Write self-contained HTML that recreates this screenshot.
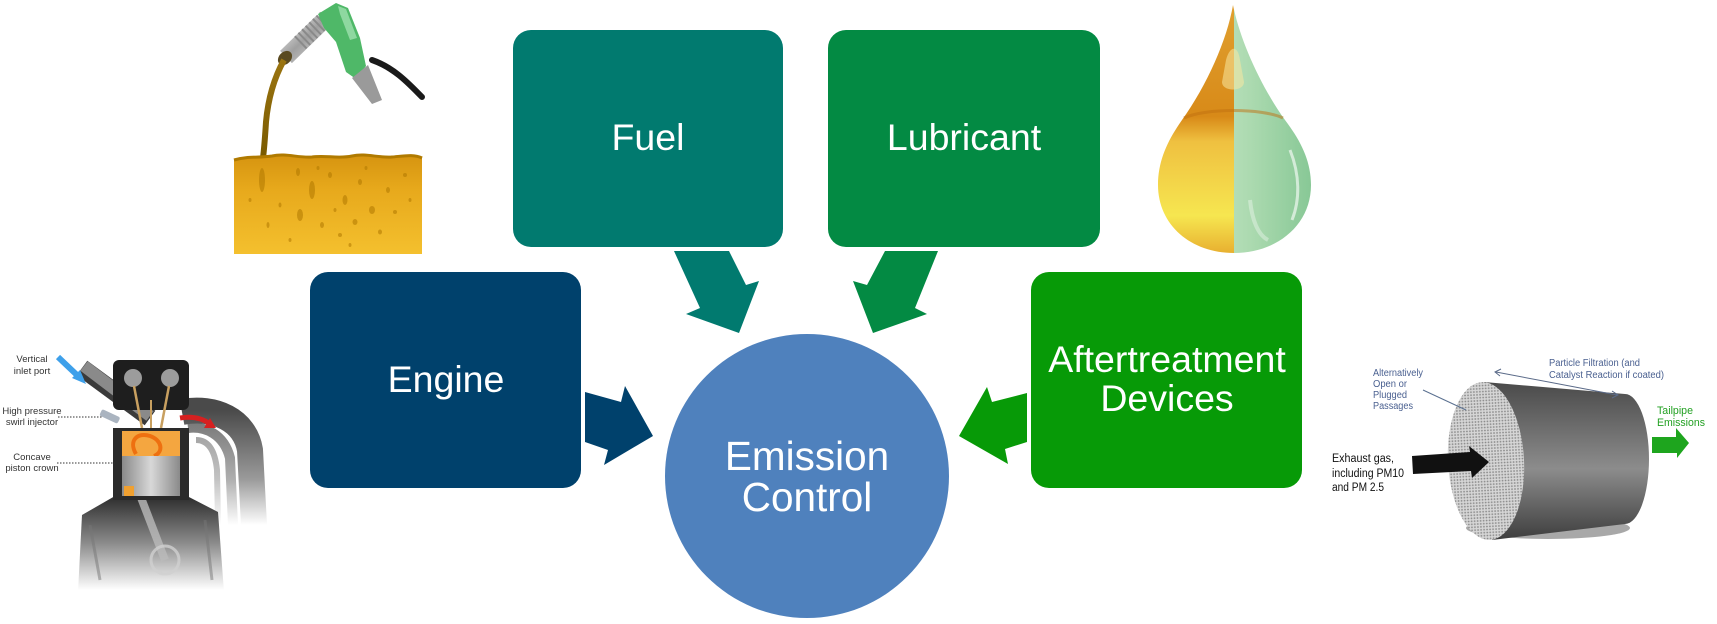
<!DOCTYPE html>
<html>
<head>
<meta charset="utf-8">
<style>
  html,body{margin:0;padding:0;background:#fff;}
  svg{display:block;}
  text{font-family:"Liberation Sans", Arial, sans-serif;}
</style>
</head>
<body>
<svg width="1717" height="624" viewBox="0 0 1717 624" xmlns="http://www.w3.org/2000/svg">
  <defs>
    <linearGradient id="liq" x1="0" y1="0" x2="0" y2="1">
      <stop offset="0" stop-color="#d69410"/>
      <stop offset="0.35" stop-color="#e7a91c"/>
      <stop offset="1" stop-color="#f4c02e"/>
    </linearGradient>
    <linearGradient id="stream" x1="0" y1="0" x2="0" y2="1">
      <stop offset="0" stop-color="#9a7410"/>
      <stop offset="1" stop-color="#7a5a00"/>
    </linearGradient>
    <linearGradient id="dropL" x1="0" y1="0" x2="0" y2="1">
      <stop offset="0" stop-color="#e0a030"/>
      <stop offset="0.45" stop-color="#d88a18"/>
      <stop offset="0.55" stop-color="#efc040"/>
      <stop offset="0.85" stop-color="#f6e650"/>
      <stop offset="1" stop-color="#e8b030"/>
    </linearGradient>
    <linearGradient id="dropR" x1="0" y1="0" x2="1" y2="0">
      <stop offset="0" stop-color="#d4ecd4"/>
      <stop offset="0.6" stop-color="#acdab0"/>
      <stop offset="1" stop-color="#88c896"/>
    </linearGradient>
    <clipPath id="clipL"><rect x="1100" y="0" width="134" height="260"/></clipPath>
    <clipPath id="clipR"><rect x="1234" y="0" width="100" height="260"/></clipPath>
    <linearGradient id="body" x1="0" y1="0" x2="0" y2="1">
      <stop offset="0" stop-color="#4a4a4a"/>
      <stop offset="0.55" stop-color="#8c8c8c"/>
      <stop offset="1" stop-color="#3e3e3e"/>
    </linearGradient>
    <pattern id="mesh" x="0" y="0" width="3" height="3" patternUnits="userSpaceOnUse">
      <rect width="3" height="3" fill="#d6d6d6"/>
      <circle cx="1.5" cy="1.5" r="0.9" fill="#8a8a8a"/>
    </pattern>
    <linearGradient id="exh" x1="0" y1="410" x2="0" y2="525" gradientUnits="userSpaceOnUse">
      <stop offset="0" stop-color="#4a4a4a"/>
      <stop offset="0.6" stop-color="#9a9a9a"/>
      <stop offset="1" stop-color="#ffffff"/>
    </linearGradient>
    <linearGradient id="crank" x1="0" y1="495" x2="0" y2="590" gradientUnits="userSpaceOnUse">
      <stop offset="0" stop-color="#2a2a2a"/>
      <stop offset="0.5" stop-color="#8a8a8a"/>
      <stop offset="1" stop-color="#ffffff"/>
    </linearGradient>
    <linearGradient id="piston" x1="0" y1="0" x2="1" y2="0">
      <stop offset="0" stop-color="#8a8a8a"/>
      <stop offset="0.5" stop-color="#d8d8d8"/>
      <stop offset="1" stop-color="#8a8a8a"/>
    </linearGradient>
    <linearGradient id="silver" x1="0" y1="0" x2="1" y2="1">
      <stop offset="0" stop-color="#e8e8e8"/>
      <stop offset="0.5" stop-color="#a0a0a0"/>
      <stop offset="1" stop-color="#d0d0d0"/>
    </linearGradient>
  </defs>

  <!-- ============ Fuel image ============ -->
  <path d="M372,60 C395,68 410,85 422,97" fill="none" stroke="#1a1a1a" stroke-width="6" stroke-linecap="round"/>
  <line x1="286" y1="57" x2="322" y2="22" stroke="url(#silver)" stroke-width="17" stroke-linecap="butt"/>
  <line x1="300" y1="43" x2="326" y2="18" stroke="#8a8a8a" stroke-width="17" stroke-dasharray="2 3"/>
  <ellipse cx="285" cy="58" rx="8" ry="6" transform="rotate(-45 285 58)" fill="#5a4a20"/>
  <path d="M318,14 L336,3 L348,8 L360,38 L366,66 L356,79 L346,72 L336,42 L324,28 Z" fill="#4fb868"/>
  <path d="M338,6 L346,9 L357,38 L350,40 L340,14 Z" fill="#8ed8a0"/>
  <path d="M352,78 L368,65 L382,100 L372,104 Z" fill="#9a9a9a"/>
  <path d="M284,60 C274,78 268,100 266,122 C265,138 264,150 263,158" fill="none" stroke="url(#stream)" stroke-width="6"/>
  <path d="M234,160 C248,156 258,158 272,156 C286,153 298,158 312,157 C326,155 338,159 352,156 C366,153 378,158 392,157 C404,156 414,154 422,158 L422,254 L234,254 Z" fill="url(#liq)"/>
  <path d="M234,160 C248,156 258,158 272,156 C286,153 298,158 312,157 C326,155 338,159 352,156 C366,153 378,158 392,157 C404,156 414,154 422,158" fill="none" stroke="#b07a00" stroke-width="3"/>
  <g fill="#b07800" opacity="0.55">
    <ellipse cx="262" cy="180" rx="3" ry="12"/>
    <ellipse cx="298" cy="172" rx="2" ry="4"/>
    <ellipse cx="312" cy="190" rx="3" ry="9"/>
    <ellipse cx="330" cy="175" rx="2" ry="3"/>
    <ellipse cx="345" cy="200" rx="2.5" ry="5"/>
    <ellipse cx="360" cy="182" rx="2" ry="3"/>
    <ellipse cx="372" cy="210" rx="3" ry="4"/>
    <ellipse cx="388" cy="190" rx="2" ry="3"/>
    <ellipse cx="300" cy="215" rx="3" ry="6"/>
    <ellipse cx="322" cy="225" rx="2" ry="3"/>
    <ellipse cx="340" cy="235" rx="2" ry="2"/>
    <ellipse cx="355" cy="222" rx="2.5" ry="3"/>
    <ellipse cx="380" cy="232" rx="2" ry="2.5"/>
    <ellipse cx="395" cy="212" rx="2" ry="2"/>
    <ellipse cx="250" cy="200" rx="1.5" ry="2"/>
    <ellipse cx="280" cy="205" rx="1.5" ry="2.5"/>
    <ellipse cx="405" cy="175" rx="2" ry="2"/>
    <ellipse cx="366" cy="168" rx="1.5" ry="2"/>
    <ellipse cx="318" cy="168" rx="1.5" ry="2"/>
    <ellipse cx="335" cy="210" rx="1.5" ry="2"/>
    <ellipse cx="350" cy="245" rx="1.5" ry="2"/>
    <ellipse cx="290" cy="240" rx="1.5" ry="2"/>
    <ellipse cx="268" cy="225" rx="1.5" ry="3"/>
    <ellipse cx="410" cy="200" rx="1.5" ry="2"/>
  </g>

  <!-- ============ Oil drop ============ -->
  <g>
    <path d="M1233,5 C1240,40 1260,85 1285,120 C1300,140 1311,160 1311,185 C1311,225 1277,253 1234,253 C1191,253 1158,225 1158,185 C1158,160 1168,140 1182,120 C1207,85 1227,40 1233,5 Z" fill="url(#dropL)" clip-path="url(#clipL)"/>
    <path d="M1233,5 C1240,40 1260,85 1285,120 C1300,140 1311,160 1311,185 C1311,225 1277,253 1234,253 C1191,253 1158,225 1158,185 C1158,160 1168,140 1182,120 C1207,85 1227,40 1233,5 Z" fill="url(#dropR)" clip-path="url(#clipR)"/>
    <path d="M1184,118 C1205,108 1262,108 1283,118" fill="none" stroke="#c07010" stroke-width="3" opacity="0.5"/>
    <path d="M1226,60 C1230,45 1238,45 1240,60 L1244,82 C1244,92 1222,92 1222,82 Z" fill="#f8e8a0" opacity="0.55"/>
    <path d="M1290,150 C1300,175 1300,200 1292,220" fill="none" stroke="#ffffff" stroke-width="3" opacity="0.6"/>
    <path d="M1250,200 C1252,220 1258,235 1268,240" fill="none" stroke="#ffffff" stroke-width="4" opacity="0.35"/>
  </g>

  <!-- ============ Engine image ============ -->
  <g>
    <path d="M182,412 C215,406 245,420 250,450 L254,525" fill="none" stroke="url(#exh)" stroke-width="26"/>
    <path d="M188,428 C205,426 224,434 230,458 L233,525" fill="none" stroke="url(#exh)" stroke-width="10" opacity="0.8"/>
    <path d="M196,440 C208,440 215,450 217,470 L218,525" fill="none" stroke="url(#exh)" stroke-width="6" opacity="0.6"/>
    <path d="M82,515 L115,496 L187,496 L218,512 L224,592 L78,592 Z" fill="url(#crank)"/>
    <path d="M90,525 L100,580 M205,520 L212,580" stroke="#777" stroke-width="3" opacity="0.5"/>
    <path d="M140,495 L165,560" stroke="#bbbbbb" stroke-width="8" opacity="0.8"/>
    <circle cx="165" cy="560" r="14" fill="none" stroke="#cfcfcf" stroke-width="3" opacity="0.8"/>
    <path d="M82,368 L150,418" stroke="#3a3a3a" stroke-width="18"/>
    <path d="M84,366 L150,416" stroke="#8a8a8a" stroke-width="12"/>
    <rect x="113" y="360" width="76" height="50" rx="6" fill="#1e1e1e"/>
    <ellipse cx="133" cy="378" rx="9" ry="9" fill="#9c9c9c"/>
    <ellipse cx="170" cy="378" rx="9" ry="9" fill="#9c9c9c"/>
    <line x1="134" y1="386" x2="142" y2="428" stroke="#c8a060" stroke-width="2.5"/>
    <line x1="169" y1="386" x2="161" y2="428" stroke="#c8a060" stroke-width="2.5"/>
    <line x1="151" y1="400" x2="151" y2="428" stroke="#c8a060" stroke-width="2"/>
    <rect x="113" y="428" width="76" height="72" fill="#2a2a2a"/>
    <rect x="122" y="431" width="58" height="25" fill="#f4a640"/>
    <path d="M136,454 C128,440 138,432 150,436 C162,440 164,452 154,456" fill="none" stroke="#ee7010" stroke-width="4"/>
    <rect x="122" y="456" width="58" height="40" fill="url(#piston)"/>
    <rect x="124" y="486" width="10" height="10" fill="#f0a030"/>
    <rect x="100" y="413" width="20" height="7" rx="2" transform="rotate(25 110 416)" fill="#aab4c0"/>
    <line x1="58" y1="357" x2="78" y2="376" stroke="#3ea0ea" stroke-width="6"/>
    <polygon points="86,384 72,378 80,370" fill="#3ea0ea"/>
    <path d="M180,418 C192,416 202,418 210,424" fill="none" stroke="#d62020" stroke-width="5"/>
    <polygon points="216,428 204,428 210,418" fill="#d62020"/>
    <line x1="58" y1="417" x2="103" y2="417" stroke="#333" stroke-width="1" stroke-dasharray="1.5 1.5"/>
    <line x1="57" y1="463" x2="115" y2="463" stroke="#333" stroke-width="1" stroke-dasharray="1.5 1.5"/>
    <g font-size="9.5" fill="#333" text-anchor="middle">
      <text x="32" y="362">Vertical</text>
      <text x="32" y="374">inlet port</text>
      <text x="32" y="414">High pressure</text>
      <text x="32" y="425">swirl injector</text>
      <text x="32" y="460">Concave</text>
      <text x="32" y="471">piston crown</text>
    </g>
  </g>

  <!-- ============ DPF image ============ -->
  <g>
    <ellipse cx="1548" cy="528" rx="82" ry="11" fill="#a8a8a8"/>
    <path d="M1484,382 L1625,394 A24,65 0 0 1 1625,524 L1492,540 Z" fill="url(#body)"/>
    <ellipse cx="1486" cy="461" rx="38" ry="79" transform="rotate(-3 1486 461)" fill="url(#mesh)"/>
    <polygon points="1412,456 1470,452 1469,446 1489,462 1472,478 1471,471 1413,474" fill="#111"/>
    <polygon points="1652,437 1676,437 1676,428 1689,443 1677,458 1677,453 1652,453" fill="#1ea51e"/>
    <line x1="1423" y1="390" x2="1466" y2="410" stroke="#5a7090" stroke-width="1"/>
    <line x1="1496" y1="372" x2="1617" y2="395" stroke="#5a6a88" stroke-width="1"/>
    <polyline points="1501,369 1495,372 1500,376" fill="none" stroke="#5a6a88" stroke-width="1"/>
    <polyline points="1612,391 1618,395 1612,398" fill="none" stroke="#5a6a88" stroke-width="1"/>
    <g font-size="10" fill="#4a6090">
      <text x="1373" y="376" textLength="50" lengthAdjust="spacingAndGlyphs">Alternatively</text>
      <text x="1373" y="387" textLength="34" lengthAdjust="spacingAndGlyphs">Open or</text>
      <text x="1373" y="398" textLength="34" lengthAdjust="spacingAndGlyphs">Plugged</text>
      <text x="1373" y="409" textLength="40" lengthAdjust="spacingAndGlyphs">Passages</text>
      <text x="1549" y="366" textLength="91" lengthAdjust="spacingAndGlyphs">Particle Filtration (and</text>
      <text x="1549" y="378" textLength="115" lengthAdjust="spacingAndGlyphs">Catalyst Reaction if coated)</text>
    </g>
    <g font-size="11" fill="#22a022">
      <text x="1657" y="414" textLength="36" lengthAdjust="spacingAndGlyphs">Tailpipe</text>
      <text x="1657" y="426" textLength="48" lengthAdjust="spacingAndGlyphs">Emissions</text>
    </g>
    <g font-size="11.5" fill="#111">
      <text x="1332" y="462" textLength="62" lengthAdjust="spacingAndGlyphs">Exhaust gas,</text>
      <text x="1332" y="477" textLength="72" lengthAdjust="spacingAndGlyphs">including PM10</text>
      <text x="1332" y="491" textLength="52" lengthAdjust="spacingAndGlyphs">and PM 2.5</text>
    </g>
  </g>

  <!-- ============ Boxes ============ -->
  <rect x="513" y="30" width="270" height="217" rx="18" fill="#017a6f"/>
  <rect x="828" y="30" width="272" height="217" rx="18" fill="#038a43"/>
  <rect x="310" y="272" width="271" height="216" rx="18" fill="#00416c"/>
  <rect x="1031" y="272" width="271" height="216" rx="18" fill="#079a07"/>

  <!-- ============ Arrows ============ -->
  <polygon points="674,251 729,251 746,285 759,281 739,333 686,314 700,308" fill="#017a6f"/>
  <polygon points="885,251 938,251 915,308 927,314 873,333 853,281 867,285" fill="#038a43"/>
  <polygon points="585,392 621,402 625,386 653,436 604,465 608,450 585,442" fill="#00416c"/>
  <polygon points="1027,393 992,402 987,387 959,436 1008,464 1005,449 1027,442" fill="#079a07"/>

  <!-- ============ Circle ============ -->
  <circle cx="807" cy="476" r="142" fill="#4f81bd"/>

  <!-- ============ Labels ============ -->
  <g fill="#ffffff" font-size="37.5" text-anchor="middle">
    <text x="648" y="150">Fuel</text>
    <text x="964" y="150">Lubricant</text>
    <text x="446" y="392">Engine</text>
    <text x="1167" y="372">Aftertreatment</text>
    <text x="1167" y="411">Devices</text>
  </g>
  <g fill="#ffffff" font-size="40.5" text-anchor="middle">
    <text x="807" y="470">Emission</text>
    <text x="807" y="511">Control</text>
  </g>
</svg>
</body>
</html>
